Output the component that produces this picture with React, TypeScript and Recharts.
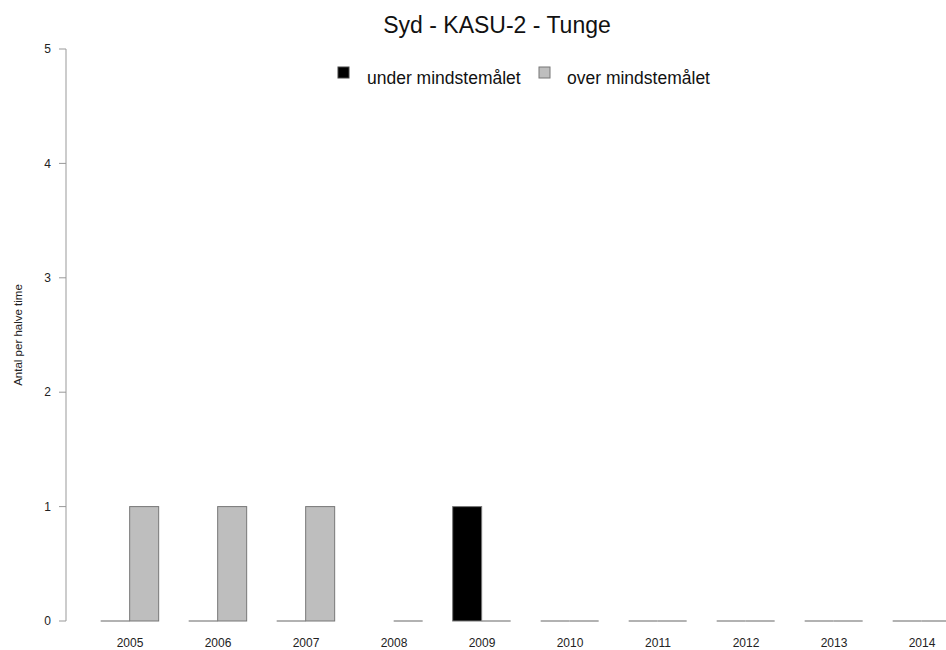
import { Bar, BarChart, XAxis, YAxis } from 'recharts';

const years = ['2005', '2006', '2007', '2008', '2009', '2010', '2011', '2012', '2013', '2014'];
const underValues = [0, 0, 0, null, 1, 0, 0, 0, 0, 0];
const overValues = [1, 1, 1, 0, 0, 0, 0, 0, 0, 0];
const yTicks = [0, 1, 2, 3, 4, 5];

const data = years.map((year, i) => ({ year, under: underValues[i], over: overValues[i] }));

const FONT = '"Liberation Sans", Arial, sans-serif';

// zero-height bars are drawn by R as a flat outline, Recharts would skip them
function makeShape(key: 'under' | 'over', fill: string) {
    return (props: any) => {
        const { x, y, width, height, payload } = props;
        if (payload == null || payload[key] == null) return <g />;
        if (!height) {
            return <line x1={x} x2={x + width} y1={y} y2={y} stroke="#999" strokeWidth={1.5} />;
        }
        return <rect x={x} y={y} width={width} height={height} fill={fill} stroke="#777" strokeWidth={1} />;
    };
}

export default function App() {
    return (
        <div style={{ position: 'absolute', left: 0, top: 0, width: 946, height: 650, overflow: 'hidden', background: '#fff' }}>
            <BarChart
                width={966}
                height={650}
                data={data}
                margin={{ top: 49, right: 0, bottom: 0, left: 0 }}
                barCategoryGap="16.67%"
                barGap={0}
                style={{ fontFamily: FONT }}
            >
                <XAxis
                    dataKey="year"
                    height={29}
                    axisLine={false}
                    tickLine={false}
                    tickSize={6}
                    tickMargin={11}
                    padding={{ left: 20, right: 0 }}
                    interval={0}
                    tick={{ fontSize: 12, fill: '#222' }}
                />
                <YAxis
                    width={66}
                    domain={[0, 5]}
                    ticks={yTicks}
                    axisLine={{ stroke: '#999' }}
                    tickLine={{ stroke: '#999' }}
                    tickSize={7}
                    tickMargin={8}
                    tick={{ fontSize: 12, fill: '#222' }}
                    label={{ value: 'Antal per halve time', angle: -90, position: 'insideLeft', offset: 18, style: { textAnchor: 'middle', fontSize: 11.5, fill: '#222' } }}
                />
                <Bar dataKey="under" name="under mindstemålet" fill="#000" shape={makeShape('under', '#000')} isAnimationActive={false} />
                <Bar dataKey="over" name="over mindstemålet" fill="#bebebe" shape={makeShape('over', '#bebebe')} isAnimationActive={false} />
            </BarChart>
            <svg width={946} height={100} style={{ position: 'absolute', left: 0, top: 0, fontFamily: FONT }}>
                <text x={497} y={33} textAnchor="middle" fontSize={23} fill="#111">Syd - KASU-2 - Tunge</text>
                <rect x={338} y={67} width={11} height={11} fill="#000" stroke="#444" />
                <text x={367} y={84} fontSize={17.5} fill="#111">under mindstemålet</text>
                <rect x={539} y={67} width={11} height={11} fill="#bebebe" stroke="#777" />
                <text x={567} y={84} fontSize={17.5} fill="#111">over mindstemålet</text>
            </svg>
        </div>
    );
}
